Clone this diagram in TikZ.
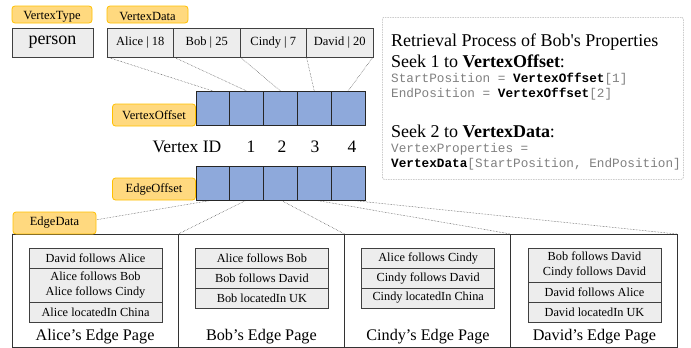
\documentclass[tikz,border=0pt]{standalone}
\usepackage{fontspec}
\setmainfont{Liberation Serif}
\setmonofont{Liberation Mono}
\usetikzlibrary{backgrounds}
\definecolor{lblfill}{HTML}{FFD97F}
\definecolor{lbldraw}{HTML}{FFC000}
\definecolor{cellblue}{HTML}{8EA9DB}
\definecolor{boxgray}{HTML}{EDEDED}
\definecolor{codegray}{HTML}{808080}
\definecolor{edgegray}{HTML}{404040}
\newcommand{\fs}[1]{\fontsize{#1}{#1}\selectfont}
\newcommand{\kw}[1]{\textcolor{black}{\textbf{#1}}}
\begin{document}
\begin{tikzpicture}[x=1pt,y=-1pt,
  lbl/.style={draw=lbldraw, fill=lblfill, rounded corners=3pt, line width=0.8pt,
    minimum width=#1, minimum height=22pt, inner sep=0pt, outer sep=0pt, font=\fs{12.5}},
  lbl/.default=82pt,
  tablbl/.style={minimum width=#1, minimum height=22pt, inner sep=0pt, outer sep=0pt, font=\fs{12.5}},
  tabshape/.style={draw=lbldraw, fill=lblfill, rounded corners=3pt, line width=0.8pt},
  graybox/.style={draw=edgegray, fill=boxgray, line width=0.8pt, inner sep=0pt, outer sep=0pt,
    minimum width=#1, minimum height=29pt, font=\fs{12.5}},
  cellbox/.style={draw=black!85, fill=cellblue, line width=0.8pt, inner sep=0pt, outer sep=0pt,
    minimum width=33.8pt, minimum height=34pt, anchor=north west},
  rowbox/.style={draw=edgegray, fill=boxgray, line width=0.8pt, inner sep=0pt, outer sep=0pt,
    minimum width=133pt, minimum height=#1, anchor=north, align=center,
    font=\fontsize{12.3}{14.6}\selectfont},
  rowbox/.default=20pt,
  pagebox/.style={draw=black!80, line width=0.7pt, minimum width=166.25pt, minimum height=113pt,
    inner sep=0pt, outer sep=0pt, anchor=north west},
  pagetitle/.style={font=\fs{16.2}, anchor=base},
  idtext/.style={font=\fs{17.5}, anchor=base},
  link/.style={densely dotted, line width=0.5pt, draw=black!75},
  code/.style={font=\ttfamily\fs{12.7}, text=codegray, anchor=base west, inner sep=0pt},
  head/.style={font=\fs{18}, anchor=base west, inner sep=0pt}
]
\useasboundingbox (0,0) rectangle (691,348);

% tab labels sitting on top of the vertex type / vertex data boxes
\node[tablbl=80pt] (vtlbl) at (52,17) {VertexType};
\node[tablbl=81pt] (vdlbl) at (147.5,17) {VertexData};
\begin{scope}[on background layer]
  \path[tabshape] ([yshift=5pt]vtlbl.south west) -- (vtlbl.north west)
    -- (vtlbl.north east) -- ([yshift=5pt]vtlbl.south east) -- cycle;
  \path[tabshape] ([yshift=5pt]vdlbl.south west) -- (vdlbl.north west)
    -- (vdlbl.north east) -- ([yshift=5pt]vdlbl.south east) -- cycle;
\end{scope}

% vertex type and vertex data
\node[graybox=81pt, font=\fs{18}] (person) at (52.5,42.5) {person};
\node[graybox=66.5pt, anchor=north west] (alice) at (107,28) {Alice | 18};
\node[graybox=66.5pt, anchor=north west] (bob) at (alice.north east) {Bob | 25};
\node[graybox=66.5pt, anchor=north west] (cindy) at (bob.north east) {Cindy | 7};
\node[graybox=66.5pt, anchor=north west] (david) at (cindy.north east) {David | 20};

% vertex offset array
\node[cellbox] (vo1) at (196,91) {};
\node[cellbox] (vo2) at (vo1.north east) {};
\node[cellbox] (vo3) at (vo2.north east) {};
\node[cellbox] (vo4) at (vo3.north east) {};
\node[cellbox] (vo5) at (vo4.north east) {};
\node[lbl=83pt] (volbl) at (154,115) {VertexOffset};

% vertex ids
\node[idtext] (vid) at (187,152) {Vertex ID};
\node[idtext] (id1) at (251,152) {1};
\node[idtext] (id2) at (282,152) {2};
\node[idtext] (id3) at (315,152) {3};
\node[idtext] (id4) at (352,152) {4};

% edge offset array
\node[cellbox] (eo1) at (196,166) {};
\node[cellbox] (eo2) at (eo1.north east) {};
\node[cellbox] (eo3) at (eo2.north east) {};
\node[cellbox] (eo4) at (eo3.north east) {};
\node[cellbox] (eo5) at (eo4.north east) {};
\node[lbl=83pt] (eolbl) at (154,189) {EdgeOffset};

% edge pages
\node[pagebox] (p1) at (12,234) {};
\node[pagebox] (p2) at (p1.north east) {};
\node[pagebox] (p3) at (p2.north east) {};
\node[pagebox] (p4) at (p3.north east) {};

\node[rowbox] (a1) at (95.5,248) {David follows Alice};
\node[rowbox=34pt] (a2) at (a1.south) {Alice follows Bob\\Alice follows Cindy};
\node[rowbox] (a3) at (a2.south) {Alice locatedIn China};
\node[pagetitle] (t1) at (95.1,340) {Alice’s Edge Page};

\node[rowbox] (b1) at (261.9,248) {Alice follows Bob};
\node[rowbox] (b2) at (b1.south) {Bob follows David};
\node[rowbox] (b3) at (b2.south) {Bob locatedIn UK};
\node[pagetitle] (t2) at (261.4,340) {Bob’s Edge Page};

\node[rowbox] (c1) at (428.2,248) {Alice follows Cindy};
\node[rowbox] (c2) at (c1.south) {Cindy follows David};
\node[rowbox] (c3) at (c2.south) {Cindy locatedIn China};
\node[pagetitle] (t3) at (428,340) {Cindy’s Edge Page};

\node[rowbox=34pt] (d1) at (594.5,248) {Bob follows David\\Cindy follows David};
\node[rowbox] (d2) at (d1.south) {David follows Alice};
\node[rowbox] (d3) at (d2.south) {David locatedIn UK};
\node[pagetitle] (t4) at (594.4,340) {David’s Edge Page};

% dotted links, kept behind the boxes and labels
\begin{scope}[on background layer]
  \draw[link] (alice.south west) -- (vo1.north);
  \draw[link] (bob.south west) -- (vo2.north);
  \draw[link] (cindy.south west) -- (vo3.north);
  \draw[link] (david.south west) -- (vo4.north);
  \draw[link] (david.south east) -- (vo5.north);
  \draw[link] (eo1.south) -- (p1.north west);
  \draw[link] (eo2.south) -- (p2.north west);
  \draw[link] (eo3.south) -- (p3.north west);
  \draw[link] (eo4.south) -- (p4.north west);
  \draw[link] (eo5.south) -- (p4.north east);
\end{scope}
\node[lbl=83pt] (edlbl) at (54.5,223) {EdgeData};

% retrieval explanation
\node[draw=black!30, dash pattern=on 1.5pt off 1pt, line width=0.6pt, rounded corners=2pt,
  minimum width=301pt, minimum height=162pt, anchor=north west, inner sep=0pt] (proc) at (382,17) {};
\node[head] (h1) at (391,46) {Retrieval Process of Bob\textquotesingle s Properties};
\node[head] (h2) at (391,67) {Seek 1 to \textbf{VertexOffset}:};
\node[code] (c1l) at (391,82) {StartPosition = \kw{VertexOffset}[1]};
\node[code] (c2l) at (391,97) {EndPosition = \kw{VertexOffset}[2]};
\node[head] (h3) at (391,137) {Seek 2 to \textbf{VertexData}:};
\node[code] (c3l) at (391,152) {VertexProperties =};
\node[code] (c4l) at (391,167) {\kw{VertexData}[StartPosition, EndPosition]};
\end{tikzpicture}
\end{document}
